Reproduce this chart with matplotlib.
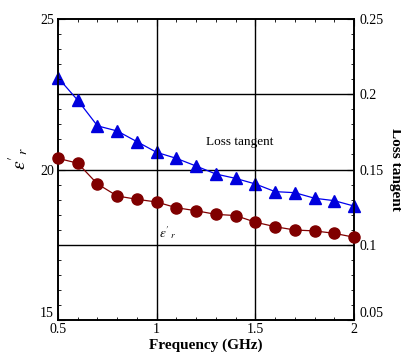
import matplotlib
matplotlib.use("Agg")
import matplotlib.pyplot as plt
from matplotlib.ticker import MultipleLocator

plt.rcParams['font.family'] = ['Liberation Serif', 'DejaVu Serif']
plt.rcParams['mathtext.fontset'] = 'stix'

freq = [0.5, 0.6, 0.7, 0.8, 0.9, 1.0, 1.1, 1.2, 1.3, 1.4, 1.5, 1.6, 1.7, 1.8, 1.9, 2.0]
eps_r = [20.37, 20.21, 19.52, 19.12, 19.01, 18.92, 18.73, 18.63, 18.51, 18.47,
         18.25, 18.10, 17.99, 17.96, 17.88, 17.75]
loss_tan = [0.211, 0.196, 0.179, 0.1756, 0.1685, 0.1614, 0.1574, 0.1523, 0.147,
            0.1441, 0.1404, 0.1353, 0.1346, 0.1309, 0.1293, 0.1257]

fig = plt.figure(figsize=(4.02, 3.52), dpi=100)
ax = fig.add_axes([0.1443, 0.0909, 0.7363, 0.8551])
ax2 = ax.twinx()

ax.set_xlim(0.5, 2.0)
ax.set_ylim(15, 25)
ax2.set_ylim(0.05, 0.25)

ax.xaxis.set_major_locator(MultipleLocator(0.5))
ax.xaxis.set_minor_locator(MultipleLocator(0.1))
ax.yaxis.set_major_locator(MultipleLocator(5))
ax.yaxis.set_minor_locator(MultipleLocator(0.5))
ax2.yaxis.set_major_locator(MultipleLocator(0.05))
ax2.yaxis.set_minor_locator(MultipleLocator(0.01))

ax.set_xticks([0.5, 1, 1.5, 2])
ax.set_xticklabels(['0.5', '1', '1.5', '2'])
ax.set_yticks([15, 20, 25])
ax.set_yticklabels(['15', '20', '25'])
ax2.set_yticks([0.05, 0.1, 0.15, 0.2, 0.25])
ax2.set_yticklabels(['0.05', '0.1', '0.15', '0.2', '0.25'])

ax.tick_params(axis='x', which='both', direction='in', top=True, bottom=True, labelsize=10, pad=2)
ax.tick_params(axis='y', which='both', direction='in', left=True, right=False, labelsize=10, pad=3)
ax2.tick_params(axis='y', which='both', direction='in', right=True, left=False, labelsize=10, pad=4)
for a in (ax, ax2):
    a.tick_params(which='major', length=5, width=0.8)
    a.tick_params(which='minor', length=2.5, width=0.6)
    for s in a.spines.values():
        s.set_linewidth(1.2)

# grid
for xv in [1.0, 1.5]:
    ax.axvline(xv, color='black', lw=1.0, zorder=1)
for yv in [0.1, 0.15, 0.2]:
    ax2.axhline(yv, color='black', lw=1.0, zorder=1)

ax.plot(freq, eps_r, '-o', color='#800000', markerfacecolor='#800000', markeredgecolor='#800000',
        markersize=8, lw=0.9, zorder=3, clip_on=False)
ax2.plot(freq, loss_tan, '-^', color='#0000ee', markerfacecolor='#0000dd', markeredgecolor='#0000dd',
         markersize=8.5, lw=0.9, zorder=3, clip_on=False)

ax.set_zorder(ax2.get_zorder() + 1)
ax.patch.set_visible(False)

ax2.text(1.422, 0.168, 'Loss tangent', fontsize=9.5, ha='center', va='center')
ax.text(1.01, 17.92, r"$\varepsilon'_{\,r}$", fontsize=9.5, ha='left', va='center')

ax.set_xlabel('Frequency (GHz)', fontsize=11, fontweight='bold', labelpad=2)
ax.set_ylabel(r"$\varepsilon'_{r}$", fontsize=14)
ax.yaxis.set_label_coords(-0.09, 0.535)
ax2.set_ylabel('Loss tangent', fontsize=11, fontweight='bold', rotation=-90, labelpad=13)

fig.canvas.draw()
# raise the bottom tick labels slightly, as in the reference
ax.yaxis.get_major_ticks()[0].label1.set_verticalalignment('bottom')
ax2.yaxis.get_major_ticks()[0].label2.set_verticalalignment('bottom')

fig.savefig('out.png', dpi=100)
